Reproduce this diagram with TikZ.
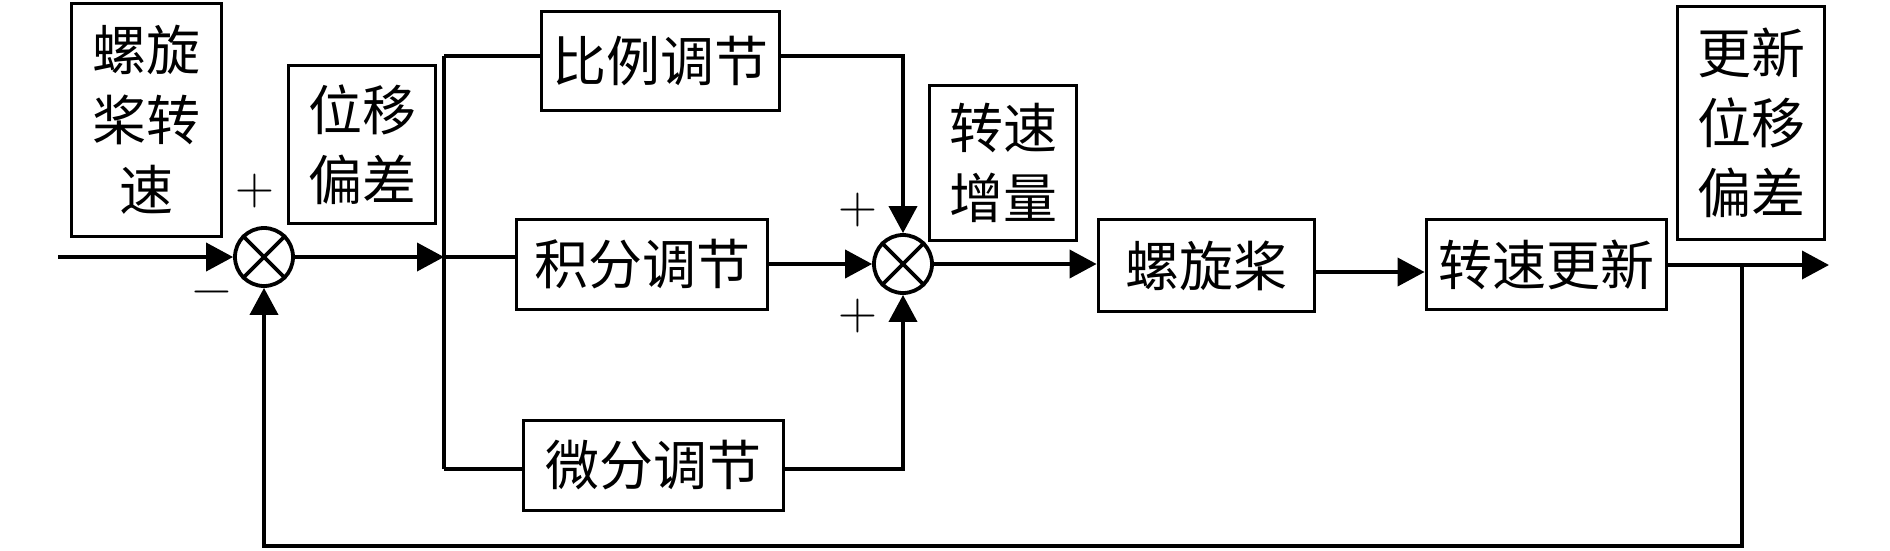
\documentclass[tikz,border=0pt]{standalone}
\usepackage{fontspec}
\newfontfamily\cjk{Noto Sans CJK SC}
\usetikzlibrary{arrows.meta,calc}
\begin{document}
\begin{tikzpicture}[x=1pt,y=-1pt,
  blk/.style={draw,line width=3.8pt,inner sep=0pt,font=\cjk\fontsize{54}{70}\selectfont,align=center},
  sumnode/.style={draw,circle,line width=3.8pt,minimum size=58pt,inner sep=0pt},
  wire/.style={line width=3.8pt},
  arr/.style={wire,-{Triangle[length=27pt,width=28pt]}},
  sgn/.style={font=\fontsize{54}{54}\selectfont,inner sep=0pt}]
\useasboundingbox (0,0) rectangle (1890,550);

% blocks
\node[blk,minimum width=150pt,minimum height=233pt] (rs) at (146.5,120) {螺旋\\桨转\\速};
\node[blk,minimum width=147pt,minimum height=158pt] (wy) at (362,144.5) {位移\\偏差};
\node[blk,minimum width=238pt,minimum height=99pt] (bl) at (660.5,61) {比例调节};
\node[blk,minimum width=251pt,minimum height=90pt] (jf) at (642,264.5) {积分调节};
\node[blk,minimum width=260pt,minimum height=90pt] (wf) at (653.5,465.5) {微分调节};
\node[blk,minimum width=147pt,minimum height=155pt] (zl) at (1003,163) {转速\\增量};
\node[blk,minimum width=216pt,minimum height=92pt] (lx) at (1206.5,265.5) {螺旋桨};
\node[blk,minimum width=240pt,minimum height=90pt] (gx) at (1546.5,264.5) {转速更新};
\node[blk,minimum width=147pt,minimum height=233pt] (gw) at (1751,123) {更新\\位移\\偏差};

% summing junctions
\node[sumnode] (s1) at (264,257) {};
\draw[wire] (s1.north east) -- (s1.south west) (s1.north west) -- (s1.south east);
\node[sumnode] (s2) at (903,264) {};
\draw[wire] (s2.north east) -- (s2.south west) (s2.north west) -- (s2.south east);

% signs
\node[sgn] (p1) at (255,191) {+};
\node[sgn] (m1) at (212,298) {−};
\node[sgn] (p2) at (858,210) {+};
\node[sgn] (p3) at (858,316) {+};

% coordinates
\coordinate (in) at (58,257);
\coordinate (bt) at (444,56);
\coordinate (bm) at (444,257);
\coordinate (bb) at (444,469);
\coordinate (out) at (1829,265);
\coordinate (fb) at (1742,265);
\coordinate (fbd) at (1742,546);

% input and error
\draw[arr] (in) -- (s1.west);
\draw[arr] (s1.east) -- (bm);
\draw[wire] (bt) -- (bb);
\draw[wire] (bt) -- (bt -| bl.west);
\draw[wire] (bm) -- (bm -| jf.west);
\draw[wire] (bb) -- (bb -| wf.west);

% into second junction
\draw[arr] (bl.east |- bt) -| (s2.north);
\draw[arr] (jf.east |- s2) -- (s2.west);
\draw[arr] (wf.east |- bb) -| (s2.south);

% forward path
\draw[arr] (s2.east) -- (s2.east -| lx.west);
\draw[arr] (lx.east |- 0,272) -- (gx.west |- 0,272);
\draw[arr] (gx.east |- out) -- (out);

% feedback
\draw[arr] (fb) -- (fbd) -| (s1.south);
\end{tikzpicture}
\end{document}
